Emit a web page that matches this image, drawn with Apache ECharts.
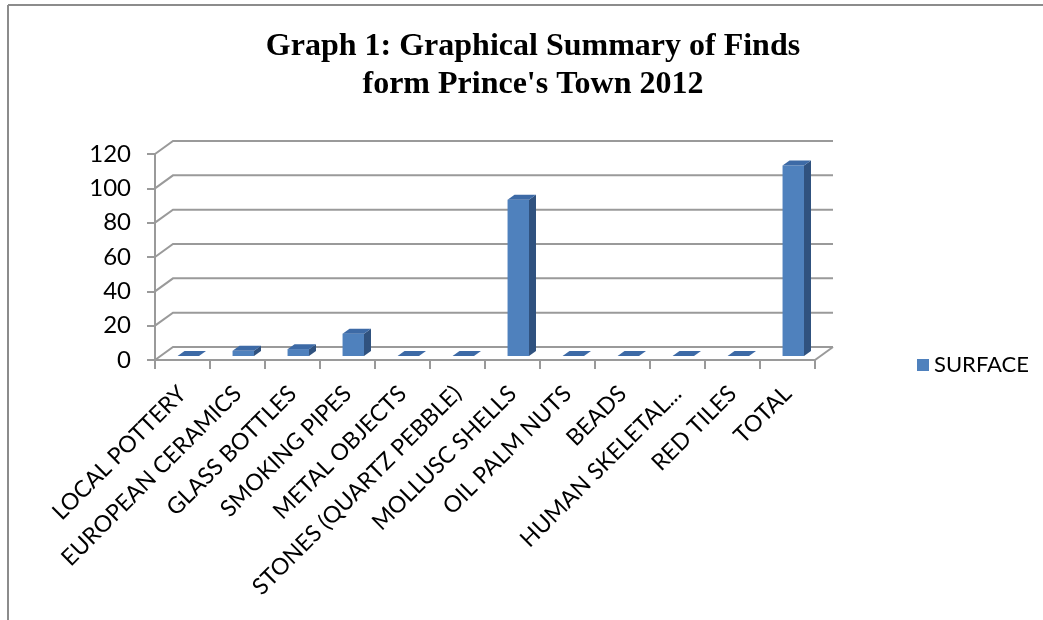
<!DOCTYPE html>
<html>
<head>
<meta charset="utf-8">
<script src="https://cdn.jsdelivr.net/npm/echarts@6/dist/echarts.min.js"></script>
<style>
html,body{margin:0;padding:0;background:#fff;}
#chart{width:1043px;height:620px;}
</style>
</head>
<body>
<div id="chart"></div>
<script>
const categories = ['LOCAL POTTERY','EUROPEAN CERAMICS','GLASS BOTTLES','SMOKING PIPES','METAL OBJECTS','STONES (QUARTZ PEBBLE)','MOLLUSC SHELLS','OIL PALM NUTS','BEADS','HUMAN SKELETAL...','RED TILES','TOTAL'];
const surface = [0, 3, 4, 13, 0, 0, 91, 0, 0, 0, 0, 111];
const yTicks = [0, 20, 40, 60, 80, 100, 120];
const seriesName = 'SURFACE';
const titleText = "Graph 1: Graphical Summary of Finds\nform Prince's Town 2012";

const WALL_DX = 18, WALL_DY = 13;
const BAR_DX = 7, BAR_DY = 5, BAR_LIFT = 4;
const GRID_COLOR = '#9a9a9a';

const chart = echarts.init(document.getElementById('chart'));

function renderWall(params, api) {
  const t = api.value(1);
  const n = categories.length;
  const bw = api.size([1, 0])[0];
  const p0 = api.coord([0, t]);
  const p1 = api.coord([n - 1, t]);
  const xl = p0[0] - bw / 2, xr = p1[0] + bw / 2, y = p0[1];
  const children = [{
    type: 'polyline',
    shape: {points: [[xl, y], [xl + WALL_DX, y - WALL_DY], [xr + WALL_DX, y - WALL_DY]]},
    style: {stroke: GRID_COLOR, lineWidth: 2, fill: null}
  }];
  if (t === 0) {
    children.push({
      type: 'line',
      shape: {x1: xr, y1: y, x2: xr + WALL_DX, y2: y - WALL_DY},
      style: {stroke: GRID_COLOR, lineWidth: 2}
    });
  }
  return {type: 'group', children: children};
}

function renderBar(params, api) {
  const i = api.value(0), v = api.value(1);
  const base = api.coord([i, 0]);
  const top = api.coord([i, v]);
  const bw = api.size([1, 0])[0];
  const w = bw * 0.39;
  const xl = base[0] - bw * 0.09, xr = xl + w;
  const yb = base[1] - BAR_LIFT, yt = top[1] - BAR_LIFT;
  return {
    type: 'group',
    children: [
      {type: 'rect', shape: {x: xl, y: yt, width: w, height: Math.max(0, yb - yt)},
       style: {fill: '#4F81BD'}},
      {type: 'polygon', shape: {points: [[xr, yb], [xr, yt], [xr + BAR_DX, yt - BAR_DY], [xr + BAR_DX, yb - BAR_DY]]},
       style: {fill: '#30527F'}},
      {type: 'polygon', shape: {points: [[xl, yt], [xr, yt], [xr + BAR_DX, yt - BAR_DY], [xl + BAR_DX, yt - BAR_DY]]},
       style: {fill: '#3D6AA6'}}
    ]
  };
}

const option = {
  animation: false,
  backgroundColor: '#ffffff',
  title: {
    text: titleText,
    left: 528,
    top: 23,
    textAlign: 'center',
    textStyle: {
      fontFamily: 'Liberation Serif',
      fontWeight: 'bold',
      fontSize: 32,
      lineHeight: 38,
      color: '#000'
    }
  },
  legend: {
    data: [seriesName],
    left: 912,
    top: 349,
    icon: 'rect',
    itemWidth: 12,
    itemHeight: 12,
    itemGap: 8,
    textStyle: {fontFamily: 'Lato', fontSize: 22, color: '#000'}
  },
  grid: {left: 155, right: 228, top: 154, bottom: 260},
  xAxis: {
    type: 'category',
    data: categories,
    boundaryGap: true,
    axisLine: {show: true, lineStyle: {color: GRID_COLOR, width: 2}},
    axisTick: {show: true, length: 9, alignWithLabel: false, lineStyle: {color: GRID_COLOR, width: 2}},
    axisLabel: {
      interval: 0,
      rotate: 45,
      margin: 30,
      fontFamily: 'Lato',
      fontSize: 23,
      color: '#000'
    },
    splitLine: {show: false}
  },
  yAxis: {
    type: 'value',
    min: 0,
    max: 120,
    interval: 20,
    axisLine: {show: true, lineStyle: {color: GRID_COLOR, width: 2}},
    axisTick: {show: true, length: 8, lineStyle: {color: GRID_COLOR, width: 2}},
    axisLabel: {margin: 24, fontFamily: 'Lato', fontSize: 24, color: '#000'},
    splitLine: {show: false}
  },
  graphic: [
    {type: 'line', shape: {x1: 8, y1: 5, x2: 8, y2: 620}, style: {stroke: '#8c8c8c', lineWidth: 2}},
    {type: 'line', shape: {x1: 8, y1: 5, x2: 1043, y2: 5}, style: {stroke: '#8c8c8c', lineWidth: 2}}
  ],
  series: [
    {
      type: 'custom',
      name: 'wall',
      silent: true,
      clip: false,
      z: 1,
      renderItem: renderWall,
      data: yTicks.map(t => [0, t])
    },
    {
      type: 'custom',
      name: seriesName,
      clip: false,
      z: 3,
      itemStyle: {color: '#4F81BD'},
      renderItem: renderBar,
      data: surface.map((v, i) => [i, v])
    }
  ]
};
chart.setOption(option);
</script>
</body>
</html>
